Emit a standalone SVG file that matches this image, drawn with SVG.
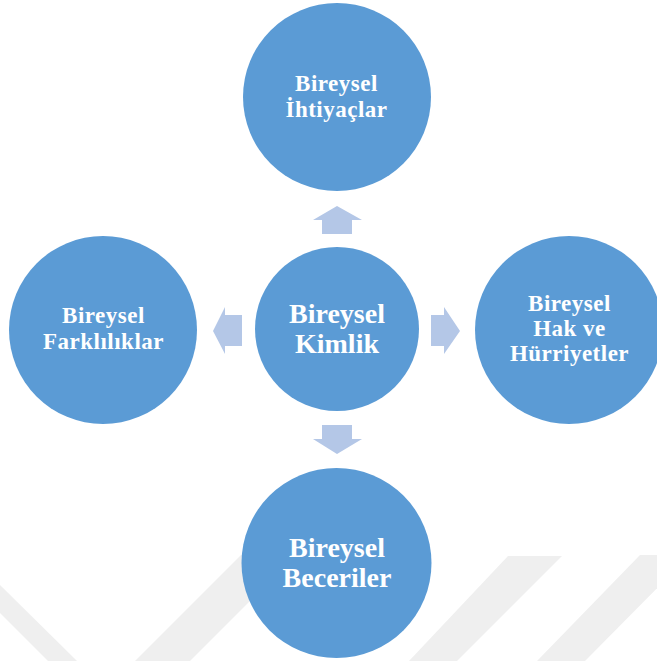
<svg xmlns="http://www.w3.org/2000/svg" width="657" height="661" viewBox="0 0 657 661">
<style>
.bg{fill:#ffffff}
.wm{fill:#efefef}
.node{fill:#5b9bd5}
.arrow{fill:#b4c7e7}
.t{font-family:"Liberation Serif","Times New Roman",serif;font-weight:bold;fill:#ffffff;text-anchor:middle}
.s{font-size:23px;letter-spacing:0.5px}
.l{font-size:28px}
</style>
<rect class="bg" x="0" y="0" width="657" height="661"/>
<g id="watermark">
<polygon class="wm" points="0,585 77,661 48,661 0,613"/>
<polygon class="wm" points="135,661 241,555 296,555 190,661"/>
<polygon class="wm" points="409,661 508,556 562,556 457,661"/>
<polygon class="wm" points="537,661 640,555 690,555 585,661"/>
</g>
<g id="connectors">
<polygon class="arrow" points="337,206 362,220 352,220 352,234 322,234 322,220 313,220"/>
<polygon class="arrow" points="322,425 352,425 352,439 362,439 337,454 313,439 322,439"/>
<polygon class="arrow" points="213,331 225,307 225,315 242,315 242,346 225,346 225,354"/>
<polygon class="arrow" points="431,315 444,315 444,307 460,331 444,354 444,346 431,346"/>
</g>
<g id="node-top">
<circle class="node" cx="337" cy="97" r="94"/>
<text class="t s" x="336.5" y="90.5">Bireysel</text>
<text class="t s" x="336.5" y="116.5">İhtiyaçlar</text>
</g>
<g id="node-center">
<circle class="node" cx="337" cy="329" r="82"/>
<text class="t l" x="337" y="323">Bireysel</text>
<text class="t l" x="337" y="352.5">Kimlik</text>
</g>
<g id="node-left">
<circle class="node" cx="103" cy="330" r="94"/>
<text class="t s" x="103.5" y="323.3">Bireysel</text>
<text class="t s" x="103.5" y="349.3">Farklılıklar</text>
</g>
<g id="node-right">
<circle class="node" cx="569" cy="330" r="94"/>
<text class="t s" x="569.5" y="311">Bireysel</text>
<text class="t s" x="569.5" y="336">Hak ve</text>
<text class="t s" x="569.5" y="361">Hürriyetler</text>
</g>
<g id="node-bottom">
<circle class="node" cx="336.5" cy="563" r="95"/>
<text class="t l" x="337" y="557.3">Bireysel</text>
<text class="t l" x="337" y="586.7">Beceriler</text>
</g>
</svg>
